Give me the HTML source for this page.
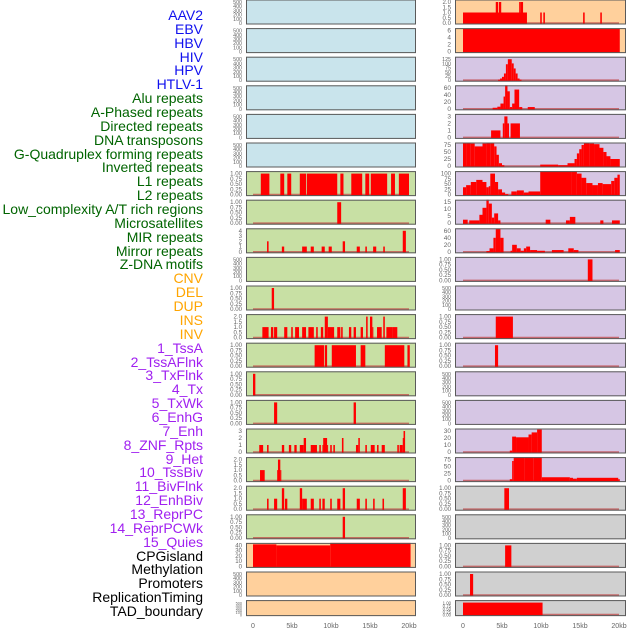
<!DOCTYPE html>
<html><head><meta charset="utf-8">
<style>
body{margin:0;background:#fff;width:630px;height:630px;overflow:hidden;font-family:"Liberation Sans",sans-serif}
#lab div{position:absolute;right:427px;font-size:14px;line-height:14px;white-space:nowrap}
</style></head><body>
<div id="lab"></div>
<svg id="chart" width="630" height="630" style="position:absolute;left:0;top:0"></svg>
<script>
const labelNames=["AAV2","EBV","HBV","HIV","HPV","HTLV-1","Alu repeats","A-Phased repeats","Directed repeats","DNA transposons","G-Quadruplex forming repeats","Inverted repeats","L1 repeats","L2 repeats","Low_complexity A/T rich regions","Microsatellites","MIR repeats","Mirror repeats","Z-DNA motifs","CNV","DEL","DUP","INS","INV","1_TssA","2_TssAFlnk","3_TxFlnk","4_Tx","5_TxWk","6_EnhG","7_Enh","8_ZNF_Rpts","9_Het","10_TssBiv","11_BivFlnk","12_EnhBiv","13_ReprPC","14_ReprPCWk","15_Quies","CPGisland","Methylation","Promoters","ReplicationTiming","TAD_boundary"];
const labelGroups=[0,0,0,0,0,0,1,1,1,1,1,1,1,1,1,1,1,1,1,2,2,2,2,2,3,3,3,3,3,3,3,3,3,3,3,3,3,3,3,4,4,4,4,4];
const groupColors=["#1010ee","#006400","#ffa500","#a020f0","#000000"];
const xTickLabels=["0","5kb","10kb","15kb","20kb"];
const xTickVals=[0,5,10,15,20];
// per-row y ticks
const T500=["0","100","200","300","400","500"],T1=["0.00","0.25","0.50","0.75","1.00"],T2=["0.0","0.5","1.0","1.5","2.0"];
const leftBg=["b","b","b","b","b","b","g","g","g","g","g","g","g","g","g","g","g","g","g","p","p","p"];
const rightBg=["p","p","l","l","l","l","l","l","l","l","l","l","l","l","l","l","l","r","r","r","r","r"];
const leftTicks=[T500,T500,T500,T500,T500,T500,T1,T1,["0","1","2","3","4"],T500,T1,T2,T1,T1,T1,["0","1","2","3"],T2,T2,T1,["0","10","20","30","40"],T500,T500];
const rightTicks=[T2,["0","2","4","6"],["0","25","50","75","100","125"],["0","20","40","60"],["0","1","2","3"],["0","25","50","75"],["0","25","50","75","100"],["0","5","10","15"],["0","20","40","60"],T1,T500,T1,T1,T500,T500,["0","10","20","30"],["0","25","50","75"],T1,T500,T1,T1,T1];
// bars: [startKb, endKb, value]
const leftBars=[[],[],[],[],[],[],
[[1.0,2.1,1],[3.5,4.0,1],[4.4,4.9,1],[6.0,6.8,1],[6.9,10.8,1],[11.2,11.6,1],[12.6,14.0,1],[14.4,14.9,1],[15.1,17.2,1],[17.7,18.2,1],[18.7,20.0,1]],
[[10.8,11.3,1]],
[[1.8,2.0,2],[3.7,4.0,1],[6.3,6.9,1],[7.4,7.8,1],[8.8,9.2,1],[9.7,10.1,1],[11.5,11.8,2],[13.3,13.7,1],[14.4,14.6,1],[15.4,15.8,1],[16.7,16.9,1],[19.2,19.6,4]],
[],
[[2.4,2.7,1]],
[[1.2,2.0,1],[2.3,2.6,1],[2.7,3.1,1],[4.0,4.4,1],[4.9,5.1,1],[5.4,5.9,1],[6.3,6.8,1],[7.1,7.8,1],[8.1,8.3,1],[8.7,9.0,1],[9.2,9.6,2],[9.6,10.4,1],[10.8,11.2,1],[11.3,11.5,1],[12.3,12.6,1],[12.9,13.2,1],[13.8,14.1,1],[14.5,14.7,2],[15.0,15.3,2],[15.3,15.4,1],[15.9,16.5,1],[16.7,16.9,2],[17.1,17.9,1],[17.9,18.5,1]],
[[7.9,9.1,1],[9.2,9.5,1],[10.1,13.2,1],[13.8,14.4,1],[16.9,19.4,1],[19.8,20.1,1]],
[[0,0.3,1]],
[[2.7,3.1,1],[12.9,13.2,1]],
[[0.8,1.3,1],[1.8,2.0,1],[3.7,4.0,1],[4.6,4.9,1],[5.3,5.6,1],[6.0,6.5,1],[6.5,6.8,2],[7.4,8.2,1],[8.5,8.7,1],[8.9,9.0,1],[9.0,9.5,2],[9.5,9.6,1],[9.9,10.1,1],[10.3,10.5,1],[11.4,11.6,2],[13.2,13.5,1],[13.5,13.7,2],[14.4,14.6,1],[15.1,15.6,1],[15.9,16.1,1],[16.5,16.9,1],[18.5,18.7,1],[18.8,19.2,1],[19.2,19.3,2],[19.3,19.5,3]],
[[0.9,1.5,1],[3.1,3.2,1],[3.2,3.5,2],[3.5,3.6,1]],
[[1.8,2.0,1],[2.7,3.1,1],[3.7,4.0,2],[4.1,4.4,1],[6.0,6.3,2],[6.3,6.9,1],[7.4,7.8,1],[8.5,8.7,1],[8.9,9.2,1],[9.9,10.1,1],[10.8,11.2,1],[11.5,11.8,2],[13.3,13.7,1],[14.4,14.6,1],[15.4,15.6,1],[16.6,16.8,1],[19.2,19.6,2]],
[[11.5,11.8,1]],
[[0,3,42],[3,9.9,40],[9.9,20.2,48]],
[],[]];
const rightBars=[
[[0,8.2,1],[4.2,4.5,2],[4.6,4.9,2],[7.2,7.4,2],[7.4,7.7,2],[9.9,10.1,1],[10.3,10.5,1],[15.4,15.6,1],[17.6,17.8,1]],
[[0,20.1,6.5]],
[[4.5,4.75,3],[4.75,5.0,10],[5.0,5.25,20],[5.25,5.5,40],[5.5,5.75,95],[5.75,6.25,125],[6.25,6.5,100],[6.5,6.75,70],[6.75,7.0,40],[7.0,7.25,10],[7.25,7.5,3]],
[[3.8,4.4,3],[4.4,4.8,6],[4.8,5.2,15],[5.2,5.4,35],[5.4,5.7,70],[5.7,6.0,50],[6.0,6.3,5],[6.3,6.6,15],[6.6,7.2,55],[7.2,7.6,5],[8.3,9.2,5]],
[[3.6,4.8,1],[5.1,5.3,2],[5.3,5.7,3],[5.7,5.9,2],[6.1,7.3,2]],
[[0,0.5,95],[0.5,1,88],[1,1.5,80],[1.5,2.5,70],[2.5,3,80],[3,3.5,88],[3.5,4,85],[4,4.3,70],[4.3,4.6,40],[4.6,5,10],[5,5.3,3],[9.9,12.2,5],[12.2,13.4,3],[13.4,14.3,10],[14.3,14.6,25],[14.6,14.9,45],[14.9,15.2,60],[15.2,15.5,75],[15.5,16.2,90],[16.2,16.8,80],[16.8,17.5,78],[17.5,18.0,65],[18.0,18.4,50],[18.4,18.9,35],[18.9,20.1,25]],
[[0,0.4,35],[0.4,1.0,45],[1.0,1.7,60],[1.7,2.5,70],[2.5,3.0,60],[3.0,3.3,35],[3.3,3.5,40],[3.5,4.1,100],[4.1,4.5,60],[4.5,5.0,25],[5.0,5.4,10],[5.4,5.8,2],[6.2,6.9,15],[6.9,7.8,20],[7.8,8.4,10],[8.4,9.9,15],[9.9,13.9,130],[13.9,14.6,120],[14.6,15.2,100],[15.2,15.8,80],[15.8,16.6,55],[16.6,17.3,45],[17.3,17.9,55],[17.9,19.0,50],[19.0,19.4,65],[19.4,19.8,80],[19.8,20.1,95]],
[[0,0.6,2.5],[0.8,2.1,2],[2.1,2.5,6],[2.5,3.0,11],[3.0,3.3,17],[3.3,3.7,14],[3.7,4.0,4],[4.0,4.5,7],[4.5,4.8,2],[10.6,11.2,2.5],[13.2,13.7,2],[13.7,14.4,4.5],[17.6,18.0,2],[19.1,20.1,2]],
[[3.0,3.4,2],[3.4,3.9,10],[3.9,4.2,40],[4.2,4.8,65],[4.8,5.2,40],[6.1,6.3,3],[6.3,6.9,20],[6.9,7.4,10],[7.4,7.8,3],[7.8,8.1,10],[8.1,8.6,15],[8.6,9.5,5],[9.5,10.5,3],[11.4,12.9,5],[13.5,14.2,10],[14.2,14.8,5],[19.5,20.1,5]],
[[16.0,16.6,1]],
[],
[[4.2,6.4,1]],
[[4.1,4.5,1]],
[],[],
[[6.0,6.3,2],[6.3,6.8,22],[6.8,8.4,21],[8.4,8.8,25],[8.8,9.5,28],[9.5,10.1,32]],
[[6.0,6.3,5],[6.3,6.5,70],[6.5,7.9,85],[7.9,9.0,90],[9.0,10.1,88],[10.1,13.7,12],[13.7,14.1,10],[14.1,14.6,7],[14.6,19.9,10],[19.9,20.1,5]],
[[5.3,5.9,1]],
[],
[[5.4,6.2,1]],
[[0.9,1.3,1]],
[[0,10.2,1]]];

const NS="http://www.w3.org/2000/svg";
const svg=document.getElementById('chart');
const bgColors={b:"#c9e4ec",g:"#c8e0a4",p:"#ffd09c",l:"#d6c6e4",r:"#d0d0d0"};
function mk(tag,attrs,parent){const e=document.createElementNS(NS,tag);for(const k in attrs)e.setAttribute(k,attrs[k]);(parent||svg).appendChild(e);return e;}
function rowTop(i){return -0.5+28.6*i;}
function rowH(i){return i===21?16:25;}
function drawCol(x0,x1,zeroX,bgs,ticks,bars,side){
  const sx=kb=>zeroX+kb*7.8;
  for(let i=0;i<22;i++){
    const top=rowTop(i),h=rowH(i),bot=top+h;
    const tk=ticks[i],maxT=parseFloat(tk[tk.length-1]);
    const sy=v=>bot-1.5-(v/maxT)*(h-4);
    const g=mk('g',{});
    
    
    const cid='c'+side+i;
    const cp=mk('clipPath',{id:cid},g);mk('rect',{x:x0,y:top,width:x1-x0,height:h},cp);
    const bg=mk('rect',{x:x0,y:top,width:x1-x0,height:h,fill:bgColors[bgs[i]]},g);
    
    
    const bg2=mk('g',{'clip-path':'url(#'+cid+')'},g);
    if(bars[i].length){
      const bl=mk('line',{x1:sx(0),x2:sx(20),y1:sy(0),y2:sy(0),stroke:"#c04040","stroke-width":1.6,opacity:0.7},bg2);
      
      
    }
    bars[i].forEach(b=>{
      const r=mk('rect',{x:sx(b[0]),width:Math.max(1,sx(b[1])-sx(b[0])),y:sy(b[2]),height:sy(0)-sy(b[2])+1,fill:"#ff0000"},bg2);
      
      
    });
    mk('rect',{x:x0+0.5,y:top+0.5,width:x1-x0-1,height:h-1,fill:"none",stroke:"#5a5a5a","stroke-width":1},g);
    const fs=Math.min(6.5,(h-2)/tk.length+1.5);
    tk.forEach(t=>{
      const tx=mk('text',{x:x0-4,y:sy(parseFloat(t))+2,'text-anchor':'end','font-size':fs,fill:"#666",'font-family':'Liberation Sans, sans-serif'},g);
      tx.textContent=t;
      
      
    });
  }
  xTickVals.forEach((v,j)=>{
    const t=mk('text',{x:sx(v),y:628,'text-anchor':'middle','font-size':7,fill:"#666",'font-family':'Liberation Sans, sans-serif'});
    t.textContent=xTickLabels[j];
    
    
  });
}
drawCol(246,416,253,leftBg,leftTicks,leftBars,'left');
drawCol(455,626,463,rightBg,rightTicks,rightBars,'right');
const lab=document.getElementById('lab');
labelNames.forEach((n,i)=>{
  const d=document.createElement('div');
  
  
  d.textContent=n;
  d.style.top=(8+i*13.86)+'px';
  d.style.color=groupColors[labelGroups[i]];
  lab.appendChild(d);
});
</script>
</body></html>
